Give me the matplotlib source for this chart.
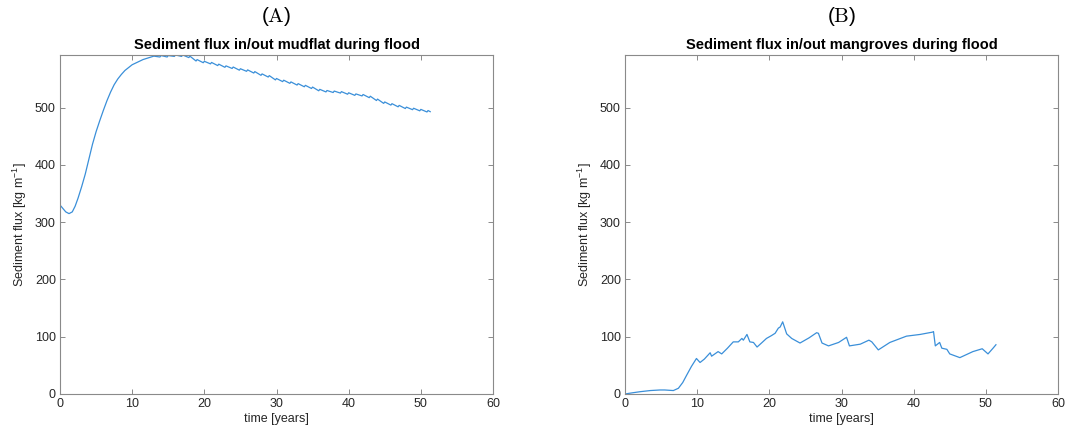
import matplotlib
matplotlib.use("Agg")
import matplotlib.pyplot as plt

plt.rcParams['font.family'] = ['Liberation Sans', 'DejaVu Sans']
plt.rcParams['mathtext.default'] = 'regular'

# ---- data: mudflat (A) ----
t_mud = [0, 0.4, 0.8, 1.25, 1.7, 2.1, 2.5, 3.0, 3.5, 4.0, 4.5, 5.0, 5.5, 6.0, 6.5,
         7.0, 7.5, 8.0, 8.5, 9.0, 9.5, 10.0, 10.5, 11.0, 11.5, 12.0, 12.5,
         13, 13.85, 14, 14.85, 15, 15.85, 16, 16.85, 17, 17.85, 18, 18.85,
         19, 19.85, 20, 20.85, 21, 21.85, 22, 22.85, 23, 23.85, 24, 24.85,
         25, 25.85, 26, 26.85, 27, 27.85, 28, 28.85, 29, 29.85, 30, 30.85,
         31, 31.85, 32, 32.85, 33, 33.85, 34, 34.85, 35, 35.85, 36, 36.85,
         37, 37.85, 38, 38.85, 39, 39.85, 40, 40.85, 41, 41.85, 42, 42.85,
         43, 43.85, 44, 44.85, 45, 45.85, 46, 46.85, 47, 47.85, 48, 48.85,
         49, 49.85, 50, 50.85, 51, 51.3]
v_mud = [330, 324, 318, 315, 318, 328, 342, 362, 384, 410, 436, 458, 477, 495, 512,
         527, 540, 550, 558, 565, 570, 575, 578, 581, 584, 586, 588,
         590, 588.5, 591, 588.5, 591, 589.5, 592, 589.5, 592, 587.5, 590, 581.5,
         584, 578.5, 581, 576.5, 579, 573.5, 576, 570.5, 573, 568.5, 571, 565.5,
         568, 563.5, 566, 560.5, 563, 556.5, 559, 553.5, 556, 548.5, 551, 545.5,
         548, 542.5, 545, 539.5, 542, 536.5, 539, 533.5, 536, 529.5, 532, 527.5,
         530, 526.5, 529, 525.5, 528, 523.5, 526, 521.5, 524, 520.5, 523, 517.5,
         520, 512.5, 515, 507.5, 510, 504.5, 507, 501.5, 504, 498.5, 501, 496.5,
         499, 494.5, 497, 492.5, 495, 493]

# ---- data: mangroves (B) ----
t_man = [0, 1.0, 2.1, 3.5, 4.85, 5.5, 6.7, 7.4, 8.0, 8.55, 9.2, 9.9, 10.4, 11.0,
         11.8, 12.0, 12.9, 13.4, 14.2, 15.0, 15.7, 16.2, 16.4, 16.9, 17.3, 17.8,
         18.3, 19.0, 19.6, 20.3, 20.8, 21.25, 21.5, 21.85, 22.4, 23.1, 24.25,
         25.5, 26.55, 26.8, 27.3, 28.2, 29.6, 30.7, 31.1, 32.6, 33.8, 34.2, 35.1,
         36.7, 39.0, 40.9, 42.6, 42.75, 43.0, 43.6, 43.9, 44.6, 45.0, 46.4, 48.2,
         49.5, 50.3, 51.0, 51.4]
v_man = [0, 2, 4, 6, 7, 7, 6, 10, 20, 33, 48, 62, 55, 61,
         72, 66, 74, 70, 80, 91, 91, 97, 94, 104, 91, 90,
         82, 90, 97, 102, 106, 115, 117, 126, 105, 97, 89,
         98, 107, 106, 89, 84, 90, 99, 84, 87, 94, 91, 77,
         90, 101, 104, 108, 109, 84, 90, 80, 78, 70, 63.5, 74,
         79, 70, 80, 86]

xticks = [0, 10, 20, 30, 40, 50, 60]
yticks = [0, 100, 200, 300, 400, 500]
panel_labels = ['A', 'B']
titles = ['Sediment flux in/out mudflat during flood',
          'Sediment flux in/out mangroves during flood']

line_color = '#3a8fd9'
spine_color = '#8a8a8a'
text_color = '#262626'

fig = plt.figure(figsize=(10.66, 4.41), dpi=100)
ymax = max(v_mud)
axes_pos = [[60/1066, 0.1066, 433/1066, 0.7687],
            [625/1066, 0.1066, 433/1066, 0.7687]]
series = [(t_mud, v_mud), (t_man, v_man)]

for i, (pos, (tt, vv)) in enumerate(zip(axes_pos, series)):
    ax = fig.add_axes(pos)
    ax.plot(tt, vv, color=line_color, lw=0.9)
    ax.set_xlim(0, 60)
    ax.set_ylim(0, ymax)
    ax.set_xticks(xticks)
    ax.set_yticks(yticks)
    ax.tick_params(direction='in', top=True, right=True, length=3.5, width=0.7,
                   colors=spine_color, labelcolor=text_color, labelsize=9, pad=3)
    for s in ax.spines.values():
        s.set_color(spine_color)
        s.set_linewidth(0.8)
    ax.set_title(titles[i], fontsize=10.5, fontweight='bold', color='black', pad=4)
    ax.set_xlabel('time [years]', fontsize=9, color=text_color, labelpad=2)
    ax.set_ylabel('Sediment flux [kg m$^{-1}$]', fontsize=9, color=text_color, labelpad=4)
    cx = pos[0] + pos[2] / 2
    fig.text(cx, 0.962, r'$(\mathrm{%s})$' % panel_labels[i], ha='center', va='center',
             fontsize=15, math_fontfamily='cm', color='black')

fig.savefig('out.png', dpi=100)
